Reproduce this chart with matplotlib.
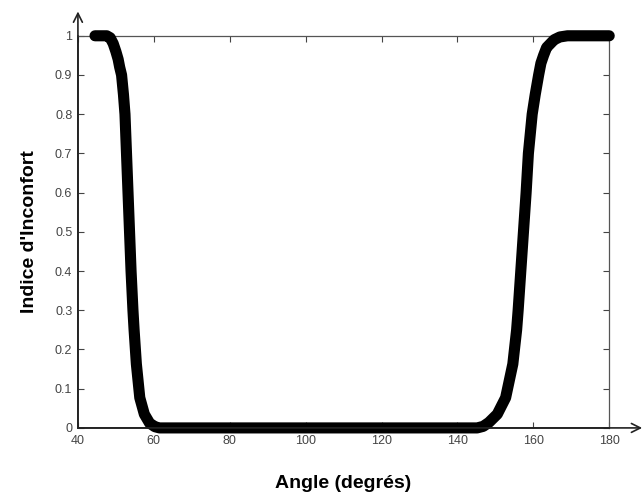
import numpy as np
import matplotlib.pyplot as plt

# points
angle = [44.5, 46.0, 47.6, 48.5, 49.3, 50.0, 50.6, 51.0, 51.5, 52.0, 52.4, 52.8, 53.2,
         53.6, 54.0, 54.5, 54.8, 55.4, 56.3, 57.5, 58.9, 60.3, 61.5, 70.0, 90.0,
         110.0, 130.0, 140.0, 145.2, 146.8, 148.3, 150.5, 152.7, 154.6, 155.6, 156.0,
         156.7, 157.4, 158.1, 158.7, 159.7, 160.5, 161.4, 162.0,
         162.7, 163.5, 164.5, 165.5, 167.0, 169.0, 175.0, 180.0]
inconfort = [1.0, 1.0, 1.0, 0.995, 0.98, 0.96, 0.94, 0.92, 0.9, 0.85, 0.8, 0.7, 0.6,
             0.5, 0.4, 0.3, 0.25, 0.163, 0.077, 0.035, 0.012, 0.003, 0.0, 0.0, 0.0,
             0.0, 0.0, 0.0, 0.0, 0.004, 0.014, 0.035, 0.077, 0.163, 0.25, 0.3,
             0.4, 0.5, 0.6, 0.7, 0.8, 0.85, 0.9, 0.93,
             0.95, 0.97, 0.98, 0.99, 0.997, 1.0, 1.0, 1.0]

xticks = [40, 60, 80, 100, 120, 140, 160, 180]
yticks = [0, 0.1, 0.2, 0.3, 0.4, 0.5, 0.6, 0.7, 0.8, 0.9, 1]
yticklabels = ["0", "0.1", "0.2", "0.3", "0.4", "0.5", "0.6", "0.7", "0.8", "0.9", "1"]

plt.rcParams['font.family'] = ['Liberation Sans', 'DejaVu Sans']

fig = plt.figure(figsize=(6.44, 4.97), dpi=100)
ax = fig.add_axes([0.121, 0.139, 0.825, 0.789])

ax.plot(angle, inconfort, color="black", linewidth=8,
        solid_capstyle="round", solid_joinstyle="round", clip_on=False, zorder=3)

ax.set_xlim(40, 180)
ax.set_ylim(0, 1)
ax.set_xticks(xticks)
ax.set_xticklabels([str(t) for t in xticks])
ax.set_yticks(yticks)
ax.set_yticklabels(yticklabels)
ax.tick_params(direction="in", length=4, width=0.8, top=True, right=True,
               labelsize=9, labelcolor="#444444", colors="#444444", pad=4)
ax.tick_params(axis="x", pad=5)

for s in ["top", "right"]:
    ax.spines[s].set_color("#555555")
    ax.spines[s].set_linewidth(0.9)
for s in ["left", "bottom"]:
    ax.spines[s].set_color("#222222")
    ax.spines[s].set_linewidth(1.2)

# flèches des axes
ax.annotate("", xy=(0, 1.062), xytext=(0, 0), xycoords="axes fraction",
            arrowprops=dict(arrowstyle="->", color="#222222", lw=1.2,
                            mutation_scale=16, shrinkA=0, shrinkB=0),
            annotation_clip=False)
ax.annotate("", xy=(1.062, 0), xytext=(0, 0), xycoords="axes fraction",
            arrowprops=dict(arrowstyle="->", color="#222222", lw=1.2,
                            mutation_scale=16, shrinkA=0, shrinkB=0),
            annotation_clip=False)

ax.set_xlabel("Angle (degrés)", fontsize=14, fontweight="bold", labelpad=20)
ax.set_ylabel("Indice d'Inconfort", fontsize=14, fontweight="bold", labelpad=12)

fig.savefig("out.png", dpi=100)
